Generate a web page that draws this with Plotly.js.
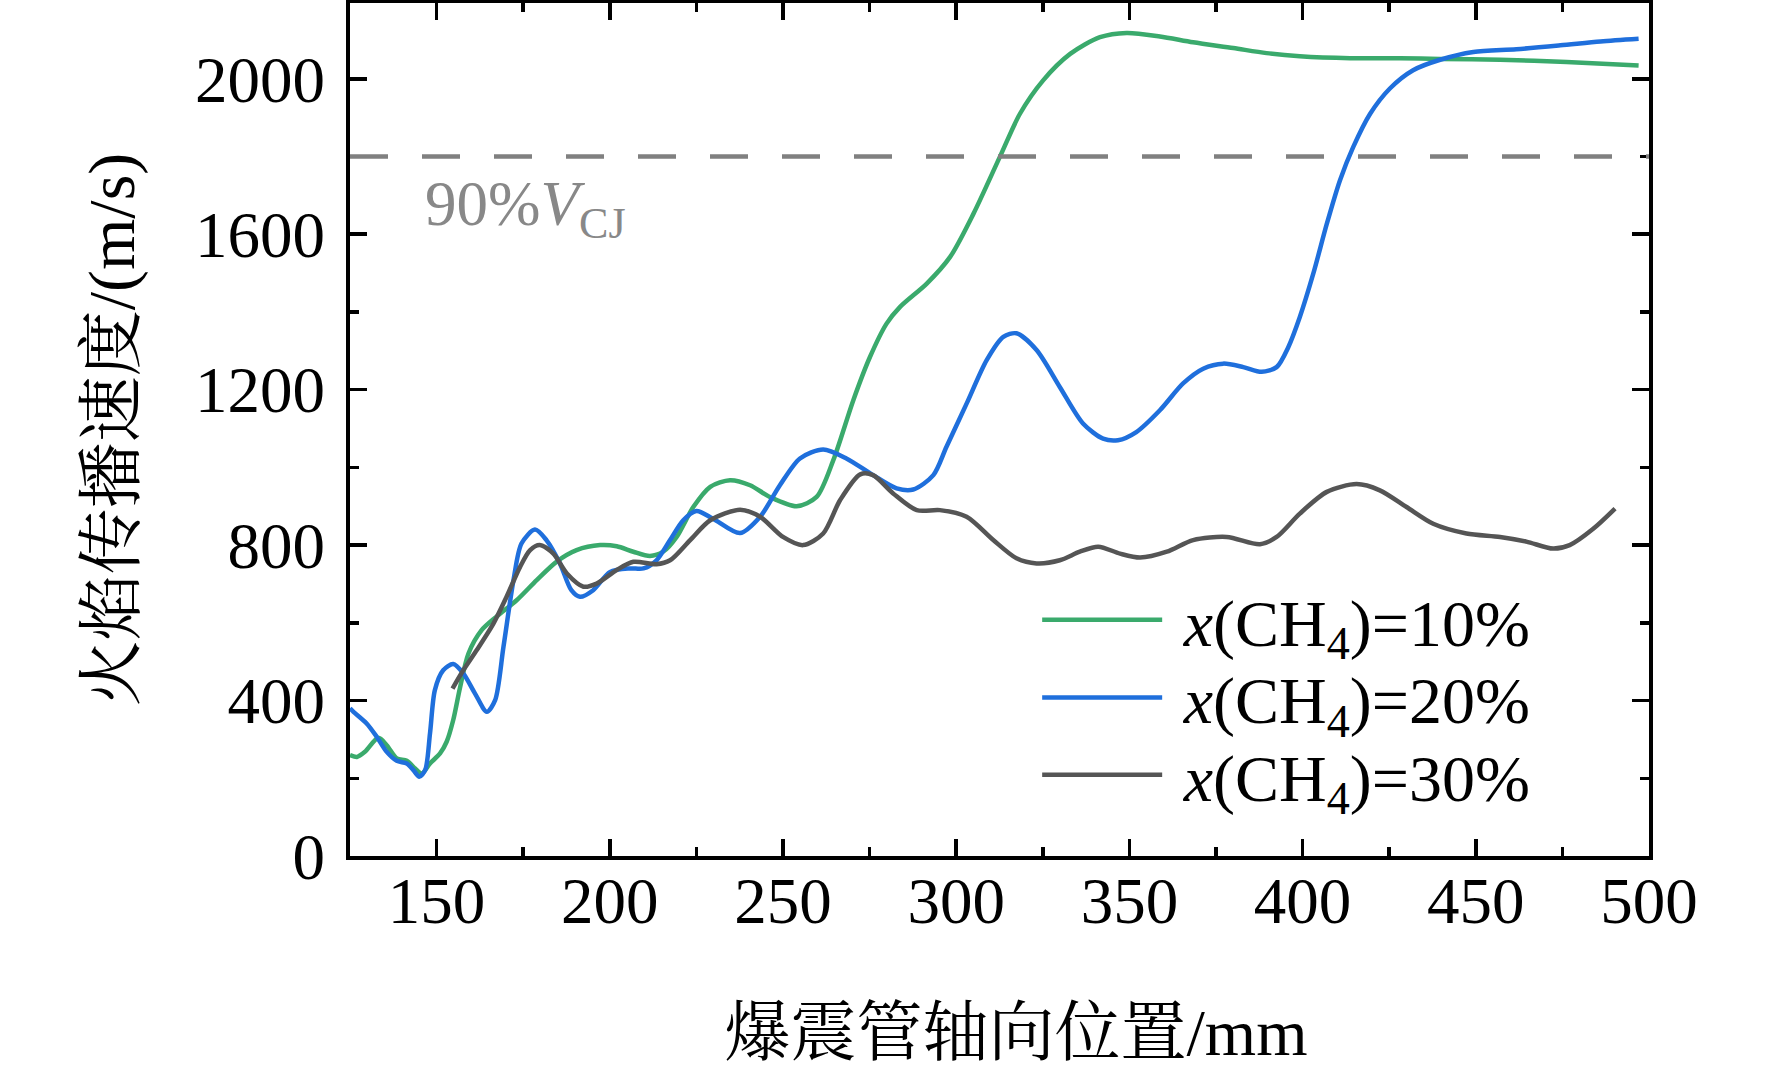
<!DOCTYPE html>
<html>
<head>
<meta charset="utf-8">
<script src="https://cdn.plot.ly/plotly-3.0.1.min.js"></script>
<style>
  html, body { margin: 0; padding: 0; background: #fff; }
  #chart { width: 1772px; height: 1072px; }
</style>
</head>
<body>
<div id="chart"></div>
<script>
// x(CH4)=10%
var x10 = [125, 127, 129.3, 133.2, 135.6, 138.5, 141.4, 143.8, 145.7, 148.1, 151, 152.9, 154.8, 156.8, 159.2,
  163, 167.3, 173.1, 178.9, 184.6, 190.4, 197.2, 202, 206.8, 211.6, 215.4, 219.3, 224.1, 229, 234.7, 240.5,
  246.2, 253.9, 259.7, 264.5, 270.3, 275.1, 279.9, 283.8, 291.5, 298.2, 305, 312.6, 318.4, 325.1, 332.9,
  341.5, 349.2, 358.8, 368.4, 380, 389.6, 399.2, 413.7, 428.1, 439.7, 457, 476.2, 497];
var v10 = [260, 255, 268, 304, 285, 251, 245, 225, 212, 238, 264, 294, 350, 435, 521,
  581, 616, 658, 710, 757, 787, 800, 797, 783, 772, 783, 821, 898, 950, 967, 954,
  924, 900, 924, 1018, 1173, 1284, 1370, 1413, 1473, 1541, 1653, 1799, 1910, 1996, 2064,
  2107, 2118, 2109, 2094, 2079, 2066, 2058, 2053, 2053, 2051, 2049, 2043, 2034];

// x(CH4)=20%
var x20 = [125, 126, 129.8, 132.7, 135.6, 138.5, 141.4, 143.3, 145, 146.7, 148.1, 149.5, 151.9, 154.8, 157.7,
  161.1, 164.5, 166.9, 169.3, 172.2, 174.5, 178.4, 181.7, 185.6, 188.9, 191.4, 195.2, 200.1, 205.8, 209.7,
  213.5, 217.4, 221.2, 225, 229.8, 237.6, 243.4, 249.1, 254.9, 261.6, 268.3, 276, 282.8, 287.6, 293.4,
  297.2, 303, 308.8, 313.6, 317.4, 323.2, 329.9, 336.6, 342.4, 346.7, 352, 358.8, 365.5, 371.3,
  377.1, 382.9, 388.2, 392.5, 395.9, 399.2, 403.1, 407, 410.8, 414.6, 419.5, 425.2, 431.9, 439.7, 449.3,
  461.7, 474.4, 486, 497];
var v20 = [380, 371, 341, 307, 268, 245, 238, 221, 204, 221, 316, 427, 478, 494, 470,
  418, 371, 401, 538, 710, 804, 840, 813, 753, 684, 667, 684, 731, 740, 740,
  761, 813, 864, 888, 868, 831, 873, 954, 1023, 1046, 1023, 980, 946, 943, 980,
  1053, 1164, 1276, 1336, 1345, 1302, 1207, 1113, 1074, 1070, 1091, 1147, 1216, 1254,
  1267, 1258, 1246, 1258, 1310, 1387, 1499, 1627, 1739, 1824, 1910, 1975, 2022, 2049, 2069,
  2076, 2086, 2096, 2103];

// x(CH4)=30%
var x30 = [154.6, 157.7, 161.6, 166.4, 170.2, 174.1, 177, 179.8, 183.7, 187.6, 192.4, 196.2, 202, 206.8,
  213.5, 217.4, 223.2, 229, 237.6, 243.4, 250, 255.8, 261.6, 266.5, 272.3, 276, 281.8,
  288.6, 295.3, 303, 310.7, 317.4, 323.2, 329.9, 335.7, 341, 347.3, 353.1, 360.8, 368.4, 378.1,
  387.7, 392.5, 399.2, 407, 415.6, 422.3, 430, 437.7, 447.3, 457, 464.6, 472.3, 477.1, 483.9, 490.2];
var v30 = [431, 478, 530, 598, 667, 744, 787, 800, 778, 727, 693, 701, 736, 757,
  751, 761, 813, 864, 891, 873, 821, 800, 830, 916, 982, 980, 933,
  890, 890, 873, 813, 766, 753, 761, 783, 796, 778, 768, 783, 813, 821,
  802, 821, 881, 937, 957, 941, 898, 855, 830, 821, 809, 791, 800, 842, 894];

var names = [' <i>x</i>(CH<sub>4</sub>)=10%', ' <i>x</i>(CH<sub>4</sub>)=20%', ' <i>x</i>(CH<sub>4</sub>)=30%'];
var colors = ['#3aaa6c', '#1f6fdc', '#555555'];
var legendIds = ['legend', 'legend2', 'legend3'];
var vcj90 = 1800;

var serif = '"Liberation Serif", "Times New Roman", "Noto Serif CJK SC", "Noto Sans CJK SC", serif';

function makeTrace(xs, ys, i) {
  return {
    x: xs, y: ys, name: names[i], type: 'scatter', mode: 'lines', legend: legendIds[i],
    line: {color: colors[i], width: 4.5, shape: 'spline', smoothing: 0.8}
  };
}

function makeLegend(yc) {
  return {
    x: 0.529, y: yc, xanchor: 'left', yanchor: 'middle',
    bgcolor: 'rgba(0,0,0,0)', itemwidth: 120,
    font: {family: serif, size: 66, color: '#000'}
  };
}

var data = [makeTrace(x10, v10, 0), makeTrace(x20, v20, 1), makeTrace(x30, v30, 2)];

var layout = {
  width: 1772, height: 1072,
  margin: {l: 350, r: 123, t: 3, b: 216},
  paper_bgcolor: '#fff', plot_bgcolor: '#fff',
  font: {family: serif, size: 64, color: '#000'},
  showlegend: true,
  legend: makeLegend(0.2767),
  legend2: makeLegend(0.1858),
  legend3: makeLegend(0.095),
  xaxis: {
    range: [125, 500], tick0: 0, dtick: 50,
    ticks: 'inside', ticklen: 17, tickwidth: 3.5, tickcolor: '#000',
    minor: {dtick: 25, tick0: 0, ticks: 'inside', ticklen: 9, tickwidth: 3.5, tickcolor: '#000'},
    showline: true, linewidth: 4, linecolor: '#000', mirror: 'ticks',
    showgrid: false, zeroline: false, ticklabelstandoff: -15,
    tickfont: {family: serif, size: 65},
    title: {text: '&nbsp;&nbsp;爆震管轴向位置/mm', font: {family: serif, size: 66}, standoff: 74}
  },
  yaxis: {
    range: [0, 2195], tick0: 0, dtick: 400,
    ticks: 'inside', ticklen: 17, tickwidth: 3.5, tickcolor: '#000',
    minor: {dtick: 200, tick0: 0, ticks: 'inside', ticklen: 9, tickwidth: 3.5, tickcolor: '#000'},
    showline: true, linewidth: 4, linecolor: '#000', mirror: 'ticks',
    showgrid: false, zeroline: false, ticklabelstandoff: 8,
    tickfont: {family: serif, size: 65},
    title: {text: '火焰传播速度/(m/s)', font: {family: serif, size: 66}, standoff: 40}
  },
  shapes: [{
    type: 'line', xref: 'paper', yref: 'y', x0: 0, x1: 1, y0: vcj90, y1: vcj90,
    line: {color: '#808080', width: 4.5, dash: '38px,34px'}
  }],
  annotations: [{
    xref: 'x', yref: 'y', x: 146, y: 1665, xanchor: 'left', yanchor: 'middle',
    text: '90%<i>V</i><sub>CJ</sub>', showarrow: false,
    font: {family: serif, size: 63, color: '#888888'}
  }]
};

Plotly.newPlot('chart', data, layout, {displayModeBar: false, staticPlot: true});
</script>
</body>
</html>
